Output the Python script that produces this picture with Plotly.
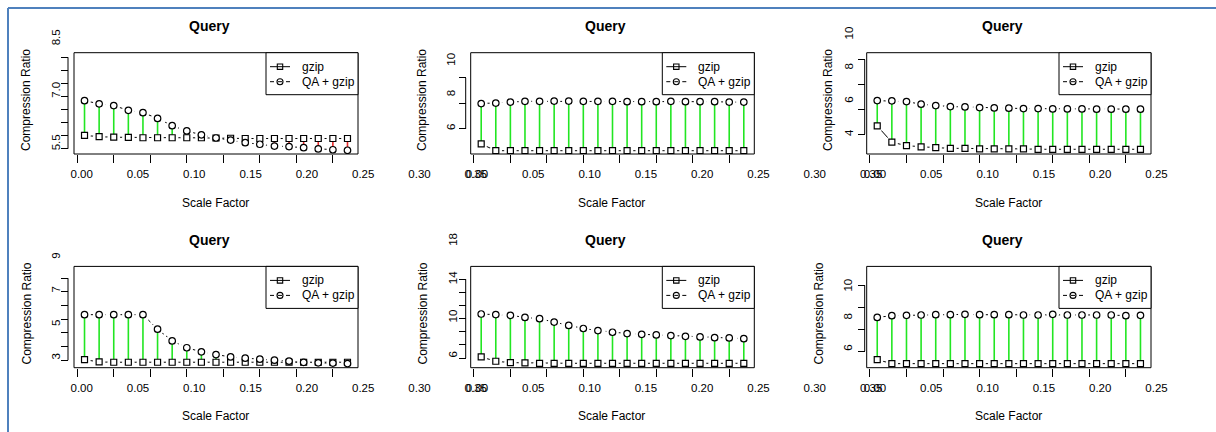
import plotly.graph_objects as go

W, H = 1216, 432

# ---------------- data ----------------
scale_factor = [0.01, 0.03, 0.05, 0.07, 0.09, 0.11, 0.13, 0.15, 0.17, 0.19,
                0.21, 0.23, 0.25, 0.27, 0.29, 0.31, 0.33, 0.35, 0.37]
x_tick_vals = [0.00, 0.05, 0.10, 0.15, 0.20, 0.25, 0.30, 0.35]
x_label_vals = [0.00, 0.05, 0.10, 0.15, 0.20, 0.25, 0.30, 0.35]
x_label_text = ["0.00", "0.05", "0.10", "0.15", "0.20", "0.25", "0.30", "0.35"]

gzip_1 = [6.01, 5.96, 5.94, 5.93, 5.92, 5.92, 5.92, 5.92, 5.92, 5.91,
          5.90, 5.89, 5.89, 5.89, 5.89, 5.89, 5.89, 5.89, 5.89]
qa_gzip_1 = [7.34, 7.22, 7.15, 6.97, 6.88, 6.66, 6.38, 6.18, 6.03, 5.91,
             5.83, 5.73, 5.67, 5.60, 5.58, 5.54, 5.49, 5.46, 5.44]

gzip_2 = [4.81, 4.28, 4.28, 4.28, 4.28, 4.28, 4.28, 4.28, 4.28, 4.28,
          4.28, 4.28, 4.28, 4.28, 4.28, 4.28, 4.28, 4.28, 4.28]
qa_gzip_2 = [7.98, 8.02, 8.10, 8.16, 8.16, 8.18, 8.18, 8.16, 8.16, 8.16,
             8.13, 8.13, 8.13, 8.16, 8.13, 8.13, 8.13, 8.10, 8.10]

gzip_3 = [4.66, 3.35, 3.07, 2.97, 2.91, 2.86, 2.86, 2.81, 2.81, 2.81,
          2.81, 2.78, 2.78, 2.78, 2.78, 2.78, 2.78, 2.78, 2.78]
qa_gzip_3 = [6.70, 6.68, 6.62, 6.41, 6.30, 6.22, 6.19, 6.14, 6.11, 6.09,
             6.06, 6.06, 6.03, 6.03, 6.03, 6.01, 6.01, 6.01, 6.01]

gzip_4 = [3.04, 2.87, 2.85, 2.85, 2.85, 2.85, 2.85, 2.85, 2.85, 2.85,
          2.85, 2.85, 2.85, 2.85, 2.85, 2.85, 2.85, 2.85, 2.85]
qa_gzip_4 = [6.33, 6.33, 6.33, 6.33, 6.33, 5.27, 4.41, 3.91, 3.61, 3.41,
             3.24, 3.15, 3.07, 3.00, 2.93, 2.84, 2.81, 2.79, 2.75]

gzip_5 = [6.18, 5.52, 5.31, 5.26, 5.21, 5.21, 5.21, 5.21, 5.21, 5.21,
          5.21, 5.21, 5.21, 5.21, 5.21, 5.21, 5.21, 5.21, 5.21]
qa_gzip_5 = [12.70, 12.61, 12.50, 12.19, 11.99, 11.47, 10.96, 10.50, 10.19, 9.93,
             9.73, 9.62, 9.53, 9.42, 9.31, 9.22, 9.11, 9.07, 8.96]

gzip_6 = [5.22, 4.86, 4.86, 4.86, 4.86, 4.86, 4.86, 4.86, 4.86, 4.86,
          4.86, 4.86, 4.86, 4.86, 4.86, 4.86, 4.86, 4.86, 4.86]
qa_gzip_6 = [9.07, 9.23, 9.26, 9.29, 9.32, 9.32, 9.35, 9.32, 9.32, 9.32,
             9.29, 9.29, 9.35, 9.29, 9.29, 9.29, 9.29, 9.23, 9.26]

y_ticks_1 = [5.5, 6.0, 6.5, 7.0, 7.5, 8.0, 8.5, 9.0]
y_ticks_2 = [6, 8, 10]
y_ticks_3 = [4, 6, 8, 10]
y_ticks_4 = [3, 4, 5, 6, 7, 8, 9]
y_ticks_5 = [6, 8, 10, 12, 14, 16, 18]
y_ticks_6 = [6, 8, 10, 12]

y_labels_1 = [5.5, 7.0, 8.5]
y_labels_2 = [6, 8, 10]
y_labels_3 = [4, 6, 8, 10]
y_labels_4 = [3, 5, 7, 9]
y_labels_5 = [6, 10, 14, 18]
y_labels_6 = [6, 8, 10]
y_label_fmt = [".1f", "d", "d", "d", "d", "d"]

y_ranges = [(5.297, 9.176), (4.02, 11.98), (2.40, 10.56),
            (2.45, 9.86), (4.54, 19.94), (4.49, 13.72)]
x_range = (-0.0044, 0.3844)

series_names = ["gzip", "QA + gzip"]
panel_title = "Query"
x_title = "Scale Factor"
y_title = "Compression Ratio"

gzip_all = [gzip_1, gzip_2, gzip_3, gzip_4, gzip_5, gzip_6]
qa_all = [qa_gzip_1, qa_gzip_2, qa_gzip_3, qa_gzip_4, qa_gzip_5, qa_gzip_6]
y_ticks_all = [y_ticks_1, y_ticks_2, y_ticks_3, y_ticks_4, y_ticks_5, y_ticks_6]
y_labels_all = [y_labels_1, y_labels_2, y_labels_3, y_labels_4, y_labels_5, y_labels_6]

# ---------------- layout geometry (page pixels) ----------------
BOX_X = [(74, 358), (470.7, 754.3), (866.7, 1151)]
BOX_Y = [(52.7, 154), (266.4, 367.7)]
YAX_OFF = [6, 5, 2, 6, 5, 2]
XLAB_ORIGIN = [81.7, 477, 875, 81.7, 477, 875]
XLAB_SCALE = 1126.0
XLAB_Y = [174.3, 388.0]
YLAB_FIT = [(5.5, 144, 35.0), (8, 94.8, 16.9), (7, 84.6, 16.6),
            (6, 307.7, 16.8), (12, 298.6, 9.57), (8, 318.1, 15.6)]
YLAB_X = [53.3, 448.3, 846.7, 53.3, 450, 845]
TITLE_Y = [26, 239.5]
YTITLE_X = [26, 422, 828, 26, 422, 818]
YTITLE_Y = [100, 313.5]
XTITLE_X = [215, 611.7, 1008.3]
XTITLE_Y = [202.7, 416]
LEG_W, LEG_H = 92, 42
LEG_ROW = [14, 29]

FONT = "Liberation Sans, Arial, sans-serif"
GREEN = "#22e622"
RED = "#e82828"


def fx(p):
    return p / W


def fy(p):
    return 1 - p / H


fig = go.Figure()
layout = dict(
    width=W, height=H, margin=dict(l=0, r=0, t=0, b=0),
    paper_bgcolor="white", plot_bgcolor="rgba(0,0,0,0)",
    font=dict(family=FONT, color="black", size=12),
    showlegend=False, shapes=[], annotations=[],
)

for k in range(6):
    row, col = divmod(k, 3)
    n = k + 1
    xs = "" if n == 1 else str(n)
    xa, ya = "x" + xs, "y" + xs
    bx0, bx1 = BOX_X[col]
    by0, by1 = BOX_Y[row]
    gz, qa = gzip_all[k], qa_all[k]

    # series lines
    fig.add_trace(go.Scatter(
        x=scale_factor, y=gz, mode="lines", name=series_names[0],
        line=dict(color="black", width=1),
        xaxis=xa, yaxis=ya, hoverinfo="skip"))
    fig.add_trace(go.Scatter(
        x=scale_factor, y=qa, mode="lines", name=series_names[1],
        line=dict(color="black", width=1, dash="3px,3px"),
        xaxis=xa, yaxis=ya, hoverinfo="skip"))
    # gaps around points (R type="b")
    fig.add_trace(go.Scatter(
        x=scale_factor + scale_factor, y=gz + qa, mode="markers",
        marker=dict(symbol="circle", size=12.5, color="white", line=dict(width=0)),
        xaxis=xa, yaxis=ya, hoverinfo="skip"))
    # difference segments
    gx, gy, rx, ry = [], [], [], []
    for xv, g, q in zip(scale_factor, gz, qa):
        if q >= g:
            gx += [xv, xv, None]
            gy += [g, q, None]
        else:
            rx += [xv, xv, None]
            ry += [g, q, None]
    fig.add_trace(go.Scatter(x=gx, y=gy, mode="lines", line=dict(color=GREEN, width=1.6),
                             xaxis=xa, yaxis=ya, hoverinfo="skip"))
    fig.add_trace(go.Scatter(x=rx, y=ry, mode="lines", line=dict(color=RED, width=1.6),
                             xaxis=xa, yaxis=ya, hoverinfo="skip"))
    # point symbols
    fig.add_trace(go.Scatter(
        x=scale_factor, y=gz, mode="markers", name=series_names[0],
        marker=dict(symbol="square", size=6, color="white", line=dict(color="black", width=1.2)),
        xaxis=xa, yaxis=ya, hoverinfo="skip"))
    fig.add_trace(go.Scatter(
        x=scale_factor, y=qa, mode="markers", name=series_names[1],
        marker=dict(symbol="circle", size=6.5, color="white", line=dict(color="black", width=1.2)),
        xaxis=xa, yaxis=ya, hoverinfo="skip"))

    # main axes
    layout["xaxis" + xs] = dict(
        domain=[fx(bx0), fx(bx1)], range=list(x_range), anchor=ya,
        tickvals=x_tick_vals, ticks="outside", ticklen=8, tickwidth=1, tickcolor="black",
        showticklabels=False, showline=False, showgrid=False, zeroline=False)
    layout["yaxis" + xs] = dict(
        domain=[fy(by1), fy(by0)], range=list(y_ranges[k]), anchor="free",
        position=fx(bx0 - YAX_OFF[k]),
        tickvals=y_ticks_all[k], ticks="outside", ticklen=7, tickwidth=1, tickcolor="black",
        showticklabels=False, showline=False, showgrid=False, zeroline=False)

    # label axes (text layer)
    ls = str(n + 6)
    o = XLAB_ORIGIN[k]
    a = max(0.0, (o - 30) / W)
    b = min(1.0, (o + 0.35 * XLAB_SCALE + 30) / W)
    layout["xaxis" + ls] = dict(
        domain=[a, b], range=[(a * W - o) / XLAB_SCALE, (b * W - o) / XLAB_SCALE],
        anchor="free", position=fy(XLAB_Y[row] - 9),
        tickvals=x_label_vals, ticktext=x_label_text, ticks="",
        tickfont=dict(size=11.5, family=FONT, color="black"),
        showline=False, showgrid=False, zeroline=False)
    vref, pref, slope = YLAB_FIT[k]
    pt, pb = (15, 170) if row == 0 else (228, 384)
    layout["yaxis" + ls] = dict(
        domain=[fy(pb), fy(pt)],
        range=[vref + (pref - pb) / slope, vref + (pref - pt) / slope],
        anchor="free", position=fx(YLAB_X[k] + 9),
        tickvals=y_labels_all[k], tickformat=y_label_fmt[k], ticks="", tickangle=-90,
        tickfont=dict(size=11.5, family=FONT, color="black"),
        showline=False, showgrid=False, zeroline=False)
    fig.add_trace(go.Scatter(x=[None], y=[None], xaxis="x" + ls, yaxis="y" + ls,
                             hoverinfo="skip"))

    # frame and axis lines
    layout["shapes"].append(dict(type="rect", xref=xa + " domain", yref=ya + " domain",
                                 x0=0, x1=1, y0=0, y1=1, layer="above",
                                 line=dict(color="black", width=1)))
    yt = y_ticks_all[k]
    layout["shapes"].append(dict(type="line", xref="paper", yref=ya,
                                 x0=fx(bx0 - YAX_OFF[k]), x1=fx(bx0 - YAX_OFF[k]),
                                 y0=yt[0], y1=yt[-1], layer="above",
                                 line=dict(color="black", width=1)))

    # legend box (R style)
    lx0 = bx1 - LEG_W
    layout["shapes"].append(dict(type="rect", xref="paper", yref="paper",
                                 x0=fx(lx0), x1=fx(bx1), y0=fy(by0 + LEG_H), y1=fy(by0),
                                 fillcolor="white", layer="above",
                                 line=dict(color="black", width=1)))
    for j, (nm, dash) in enumerate(zip(series_names, ["solid", "4px,4px"])):
        ry_ = by0 + LEG_ROW[j]
        layout["shapes"].append(dict(type="line", xref="paper", yref="paper",
                                     x0=fx(lx0 + 4), x1=fx(lx0 + 24), y0=fy(ry_), y1=fy(ry_),
                                     layer="above", line=dict(color="black", width=1, dash=dash)))
        r = 2.7 if j == 0 else 3.0
        layout["shapes"].append(dict(type="rect" if j == 0 else "circle",
                                     xref="paper", yref="paper",
                                     x0=fx(lx0 + 14 - r), x1=fx(lx0 + 14 + r),
                                     y0=fy(ry_ + r), y1=fy(ry_ - r), layer="above",
                                     line=dict(color="black", width=1.1)))
        layout["annotations"].append(dict(
            text=nm, x=fx(lx0 + 33.5), y=fy(ry_), xref="paper", yref="paper",
            showarrow=False, xanchor="left", yanchor="middle",
            font=dict(size=12, family=FONT, color="black")))

    # texts
    layout["annotations"].append(dict(
        text="<b>" + panel_title + "</b>", x=fx((bx0 + bx1) / 2 - 6.8), y=fy(TITLE_Y[row]),
        xref="paper", yref="paper", showarrow=False, xanchor="center", yanchor="middle",
        font=dict(size=14, family=FONT, color="black")))
    layout["annotations"].append(dict(
        text=y_title, x=fx(YTITLE_X[k]), y=fy(YTITLE_Y[row]), textangle=-90,
        xref="paper", yref="paper", showarrow=False, xanchor="center", yanchor="middle",
        font=dict(size=12, family=FONT, color="black")))
    layout["annotations"].append(dict(
        text=x_title, x=fx(XTITLE_X[col]), y=fy(XTITLE_Y[row]),
        xref="paper", yref="paper", showarrow=False, xanchor="center", yanchor="middle",
        font=dict(size=12, family=FONT, color="black")))

# page border (blue)
BLUE = "#4f81bd"
layout["shapes"].append(dict(type="line", xref="paper", yref="paper",
                             x0=fx(8), x1=1, y0=fy(8), y1=fy(8),
                             line=dict(color=BLUE, width=2)))
layout["shapes"].append(dict(type="line", xref="paper", yref="paper",
                             x0=fx(8), x1=fx(8), y0=fy(8), y1=0,
                             line=dict(color=BLUE, width=2)))

fig.update_layout(**layout)
fig.write_html("out.html", config={"displayModeBar": False},
               post_script="document.body.style.margin='0';document.body.style.overflow='hidden';")
